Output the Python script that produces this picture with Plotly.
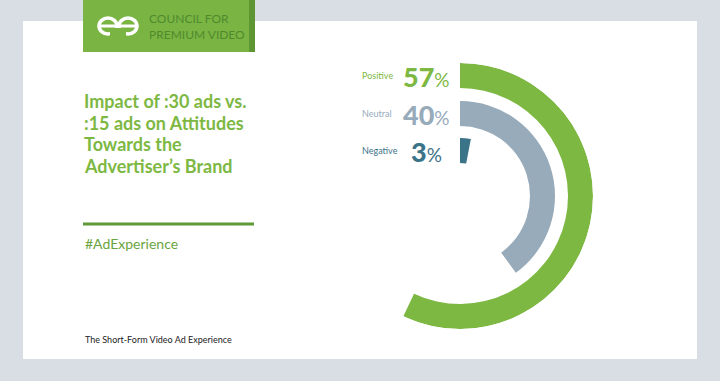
import plotly.graph_objects as go

W, H = 720, 381

# ---- data ----
categories = ["Positive", "Neutral", "Negative"]
values = [57, 40, 3]
colors = ["#7db843", "#97abbb", "#3b7389"]
title_lines = ["Impact of :30 ads vs.", ":15 ads on Attitudes", "Towards the", "Advertiser\u2019s Brand"]
hashtag = "#AdExperience"
footer = "The Short-Form Video Ad Experience"
brand = ["COUNCIL FOR", "PREMIUM VIDEO"]

def px(x):
    return x / W

def py(y):
    return 1 - y / H

fig = go.Figure()

# ring geometry (style)
inner = [108, 70, 33]
thick = 25
R = 133
cx, cy = 460, 196

fig.add_trace(go.Barpolar(
    r=[thick] * len(values),
    base=inner,
    theta=[v * 3.6 / 2 for v in values],
    width=[v * 3.6 for v in values],
    marker=dict(color=colors, line=dict(width=0)),
    hoverinfo="skip",
    showlegend=False,
))

fig.update_layout(
    width=W, height=H,
    margin=dict(l=0, r=0, t=0, b=0),
    paper_bgcolor="#d9dee4",
    plot_bgcolor="rgba(0,0,0,0)",
    polar=dict(
        domain=dict(x=[px(cx - R), px(cx + R)], y=[(H - cy - R) / H, (H - cy + R) / H]),
        bgcolor="rgba(0,0,0,0)",
        radialaxis=dict(range=[0, R], visible=False, showgrid=False),
        angularaxis=dict(rotation=90, direction="clockwise", showgrid=False, showline=False,
                         showticklabels=False, ticks=""),
        hole=0,
    ),
)

shapes = []
# card
shapes.append(dict(type="rect", xref="paper", yref="paper", x0=px(23), x1=px(697), y0=py(359), y1=py(21),
                   fillcolor="white", line=dict(width=0), layer="below"))
# logo block
shapes.append(dict(type="rect", xref="paper", yref="paper", x0=px(83), x1=px(255), y0=py(52), y1=py(0),
                   fillcolor="#7ab544", line=dict(width=0), layer="below"))
shapes.append(dict(type="rect", xref="paper", yref="paper", x0=px(249), x1=px(255), y0=py(52), y1=py(0),
                   fillcolor="#5e9634", line=dict(width=0), layer="below"))
# logo "ee" glyph
for ccx in (108, 128):
    shapes.append(dict(type="circle", xref="paper", yref="paper", x0=px(ccx - 9), x1=px(ccx + 9),
                       y0=py(34), y1=py(18), line=dict(color="white", width=3.5), fillcolor="rgba(0,0,0,0)"))
shapes.append(dict(type="line", xref="paper", yref="paper", x0=px(100), x1=px(136), y0=py(26), y1=py(26),
                   line=dict(color="white", width=3)))
# erase gaps in the e's
shapes.append(dict(type="rect", xref="paper", yref="paper", x0=px(110), x1=px(118), y0=py(36), y1=py(28),
                   fillcolor="#7ab544", line=dict(width=0)))
shapes.append(dict(type="rect", xref="paper", yref="paper", x0=px(118), x1=px(126), y0=py(36), y1=py(28),
                   fillcolor="#7ab544", line=dict(width=0)))
# rule under title
shapes.append(dict(type="line", xref="paper", yref="paper", x0=px(83), x1=px(254), y0=py(224), y1=py(224),
                   line=dict(color="#5f9a37", width=3)))
fig.update_layout(shapes=shapes)

ann = []
# brand text
ann.append(dict(x=px(147), y=py(27), xref="paper", yref="paper", xanchor="left", yanchor="middle",
                text="<br>".join(brand), showarrow=False, align="left",
                font=dict(family="Lato", size=12, color="#4f8a2c")))
# title, one line each
title_y = [101, 122.7, 144.4, 166.1]
for line, ty in zip(title_lines, title_y):
    ann.append(dict(x=px(82), y=py(ty), xref="paper", yref="paper", xanchor="left", yanchor="middle",
                    text=line, showarrow=False, align="left",
                    font=dict(family="Lato", size=18, color="#7db843", weight=700)))
# hashtag
ann.append(dict(x=px(83), y=py(243), xref="paper", yref="paper", xanchor="left", yanchor="middle",
                text=hashtag, showarrow=False, font=dict(family="Lato", size=14, color="#6aa541")))
# footer
ann.append(dict(x=px(83), y=py(339), xref="paper", yref="paper", xanchor="left", yanchor="middle",
                text=footer, showarrow=False, font=dict(family="Lato", size=9, color="#222222")))

# ring labels
label_y = [cy - (b + thick / 2) for b in inner]
for cat, v, col, ly in zip(categories, values, colors, label_y):
    ann.append(dict(x=px(360), y=py(ly), xref="paper", yref="paper", xanchor="left", yanchor="middle",
                    text=cat, showarrow=False, font=dict(family="Lato", size=9, color=col)))
    ann.append(dict(x=px(426), y=py(ly + 1), xref="paper", yref="paper", xanchor="center", yanchor="middle",
                    text=f"{v}<span style='font-size:19px;font-weight:400'>%</span>", showarrow=False,
                    font=dict(family="Lato", size=27, color=col, weight=900)))
fig.update_layout(annotations=ann)

fig.write_html("out.html", config={"displayModeBar": False},
               post_script="document.body.style.margin='0';document.body.style.overflow='hidden';")
